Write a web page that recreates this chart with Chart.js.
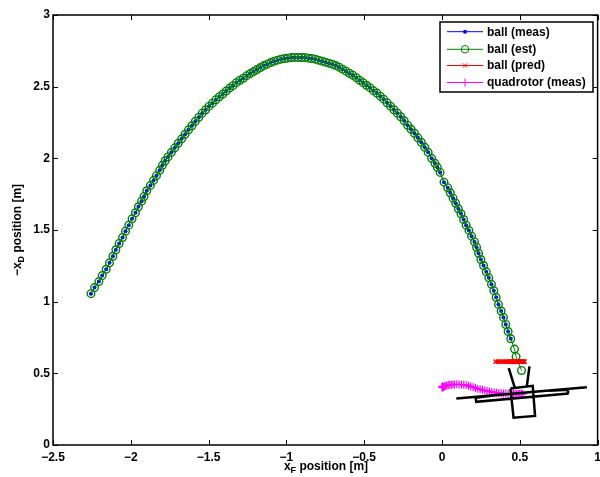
<!DOCTYPE html>
<html>
<head>
<meta charset="utf-8">
<title>ball and quadrotor</title>
<script src="https://cdn.jsdelivr.net/npm/chart.js@4/dist/chart.umd.min.js"></script>
<style>
  html, body { margin: 0; padding: 0; background: #fff; overflow: hidden; }
  canvas { display: block; }
</style>
</head>
<body>
<!-- a bit wider than the window so the right axis sits at the edge like the original -->
<canvas id="chart" width="603" height="477"></canvas>
<script>
// ball (meas)
var ballMeasX = [
  -2.256, -2.233, -2.205, -2.184, -2.158, -2.137, -2.115, -2.096, -2.075, -2.053,
  -2.034, -2.013, -1.992, -1.970, -1.951, -1.931, -1.915, -1.897, -1.874, -1.854,
  -1.835, -1.814, -1.797, -1.779, -1.761, -1.739, -1.717, -1.695, -1.673, -1.651,
  -1.629, -1.607, -1.585, -1.563, -1.541, -1.519, -1.497, -1.475, -1.453, -1.431,
  -1.409, -1.387, -1.365, -1.343, -1.321, -1.299, -1.277, -1.255, -1.233, -1.211,
  -1.189, -1.167, -1.145, -1.123, -1.101, -1.079, -1.057, -1.035, -1.013, -0.991,
  -0.969, -0.947, -0.925, -0.903, -0.881, -0.859, -0.837, -0.815, -0.793, -0.771,
  -0.749, -0.727, -0.705, -0.683, -0.661, -0.639, -0.617, -0.595, -0.573, -0.551,
  -0.529, -0.507, -0.485, -0.463, -0.441, -0.419, -0.397, -0.375, -0.353, -0.331,
  -0.309, -0.287, -0.265, -0.243, -0.221, -0.199, -0.177, -0.155, -0.133, -0.111,
  -0.089, -0.067, -0.045, -0.030, -0.012, 0.013, 0.037, 0.053, 0.071, 0.088,
  0.105, 0.122, 0.139, 0.155, 0.173, 0.190, 0.209, 0.222, 0.235, 0.250,
  0.267, 0.284, 0.301, 0.318, 0.333, 0.348, 0.363, 0.380, 0.395, 0.410,
  0.425, 0.442
];
var ballMeasY = [
  1.056, 1.098, 1.140, 1.182, 1.226, 1.271, 1.317, 1.362, 1.406, 1.448,
  1.492, 1.534, 1.578, 1.620, 1.662, 1.701, 1.734, 1.774, 1.811, 1.846,
  1.879, 1.916, 1.951, 1.983, 2.010, 2.042, 2.073, 2.105, 2.136, 2.168,
  2.199, 2.227, 2.259, 2.287, 2.315, 2.339, 2.364, 2.385, 2.409, 2.430,
  2.448, 2.469, 2.490, 2.507, 2.528, 2.545, 2.559, 2.577, 2.591, 2.605,
  2.619, 2.633, 2.647, 2.657, 2.668, 2.678, 2.685, 2.692, 2.696, 2.699,
  2.703, 2.704, 2.704, 2.703, 2.703, 2.699, 2.696, 2.692, 2.685, 2.678,
  2.671, 2.664, 2.657, 2.647, 2.636, 2.622, 2.608, 2.594, 2.580, 2.563,
  2.545, 2.528, 2.510, 2.493, 2.472, 2.455, 2.434, 2.413, 2.388, 2.364,
  2.339, 2.315, 2.290, 2.262, 2.231, 2.203, 2.175, 2.143, 2.112, 2.077,
  2.042, 2.000, 1.965, 1.937, 1.902, 1.834, 1.795, 1.760, 1.722, 1.687,
  1.648, 1.613, 1.573, 1.534, 1.497, 1.457, 1.417, 1.380, 1.338, 1.294,
  1.252, 1.208, 1.166, 1.121, 1.077, 1.030, 0.981, 0.935, 0.890, 0.841,
  0.792, 0.741
];

// ball (est) follows the measurement and goes on a little further
var ballEstX = ballMeasX.concat([0.466, 0.476, 0.511]);
var ballEstY = ballMeasY.concat([0.669, 0.617, 0.520]);

// ball (pred)
var ballPredX = [
  0.345, 0.36, 0.375, 0.39, 0.405, 0.415, 0.425, 0.435, 0.44, 0.445, 0.45, 0.455, 0.46, 0.465, 0.47,
  0.475, 0.48, 0.485, 0.49, 0.495, 0.50, 0.505, 0.51, 0.515, 0.52, 0.525, 0.53
];
var ballPredY = [
  0.582, 0.582, 0.581, 0.582, 0.581, 0.582, 0.582, 0.581, 0.582, 0.581, 0.582, 0.581, 0.582, 0.582, 0.581,
  0.582, 0.582, 0.581, 0.582, 0.582, 0.581, 0.582, 0.581, 0.582, 0.582, 0.581, 0.582
];

// quadrotor (meas)
var quadMeasX = [
  0.00, 0.002, 0.005, 0.01, 0.015, 0.02, 0.03, 0.04, 0.05, 0.06, 0.07, 0.08, 0.095, 0.11, 0.125,
  0.14, 0.155, 0.17, 0.185, 0.20, 0.215, 0.23, 0.245, 0.26, 0.275, 0.29, 0.305, 0.32, 0.335,
  0.35, 0.365, 0.38, 0.395, 0.41, 0.425, 0.44, 0.45, 0.46, 0.47, 0.48, 0.49, 0.50, 0.51, 0.52
];
var quadMeasY = [
  0.405, 0.41, 0.40, 0.405, 0.41, 0.412, 0.415, 0.418, 0.42, 0.42, 0.422, 0.422, 0.423, 0.422, 0.422,
  0.42, 0.418, 0.413, 0.408, 0.403, 0.398, 0.393, 0.389, 0.385, 0.38, 0.377, 0.373, 0.37, 0.367,
  0.364, 0.362, 0.361, 0.36, 0.359, 0.358, 0.357, 0.357, 0.356, 0.356, 0.356, 0.356, 0.357, 0.357, 0.357
];

// quadrotor outline, null breaks the line
var outlineX = [
  0.092, 0.931, null,
  0.340, 0.216, 0.220, 0.814, 0.810, 0.690, null,
  0.440, 0.583, 0.598, 0.460, 0.440, null,
  0.429, 0.468, null,
  0.562, 0.545
];
var outlineY = [
  0.324, 0.403, null,
  0.347, 0.329, 0.301, 0.359, 0.385, 0.378, null,
  0.394, 0.413, 0.203, 0.191, 0.394, null,
  0.536, 0.399, null,
  0.548, 0.408
];

var xTicks = [-2.5, -2, -1.5, -1, -0.5, 0, 0.5, 1];
var yTicks = [0, 0.5, 1, 1.5, 2, 2.5, 3];

var labelFont = "bold 12px 'Liberation Sans', Arial, sans-serif";

function toPoints(xs, ys) {
  return xs.map(function (x, i) {
    return { x: x, y: ys[i] };
  });
}

function tickText(value) {
  return String(value).replace("-", "\u2212");
}

// text with a small lowered part, eg x_F
function drawSubLabel(ctx, before, sub, after, x, y) {
  ctx.font = labelFont;
  var w1 = ctx.measureText(before).width;
  var w3 = ctx.measureText(after).width;
  ctx.font = "bold 9px 'Liberation Sans', Arial, sans-serif";
  var w2 = ctx.measureText(sub).width;
  var left = x - (w1 + w2 + w3) / 2;
  ctx.textAlign = "left";
  ctx.textBaseline = "alphabetic";
  ctx.fillStyle = "#000";
  ctx.fillText(sub, left + w1, y + 3);
  ctx.font = labelFont;
  ctx.fillText(before, left, y);
  ctx.fillText(after, left + w1 + w2, y);
}

// matlab style box with ticks pointing inside, axis titles and legend
var matlabBox = {
  id: "matlabBox",
  afterDatasetsDraw: function (chart) {
    var ctx = chart.ctx;
    var area = chart.chartArea;
    var sx = chart.scales.x;
    var sy = chart.scales.y;
    ctx.save();

    ctx.strokeStyle = "#000";
    ctx.lineWidth = 1;
    ctx.beginPath();
    xTicks.forEach(function (v) {
      var px = Math.round(sx.getPixelForValue(v)) + 0.5;
      ctx.moveTo(px, area.bottom);
      ctx.lineTo(px, area.bottom - 5);
      ctx.moveTo(px, area.top);
      ctx.lineTo(px, area.top + 5);
    });
    yTicks.forEach(function (v) {
      var py = Math.round(sy.getPixelForValue(v)) + 0.5;
      ctx.moveTo(area.left, py);
      ctx.lineTo(area.left + 5, py);
      ctx.moveTo(area.right, py);
      ctx.lineTo(area.right - 5, py);
    });
    ctx.stroke();

    ctx.lineWidth = 1.5;
    ctx.strokeRect(area.left, area.top, area.right - area.left, area.bottom - area.top);

    drawSubLabel(ctx, "x", "F", " position [m]", 326, 470);
    ctx.save();
    ctx.translate(21, 230);
    ctx.rotate(-Math.PI / 2);
    drawSubLabel(ctx, "\u2212x", "D", " position [m]", 0, 0);
    ctx.restore();

    // legend
    ctx.fillStyle = "#fff";
    ctx.fillRect(440, 22, 153, 70);
    ctx.strokeStyle = "#000";
    ctx.lineWidth = 1.5;
    ctx.strokeRect(440, 22, 153, 70);
    var rows = [31.7, 49.3, 65.5, 82.5];
    rows.forEach(function (y, i) {
      var ds = chart.data.datasets[i];
      ctx.strokeStyle = ds.borderColor;
      ctx.lineWidth = 1;
      ctx.beginPath();
      ctx.moveTo(447, y);
      ctx.lineTo(483, y);
      ctx.stroke();
      ctx.fillStyle = ds.pointBackgroundColor;
      ctx.strokeStyle = ds.pointBorderColor;
      Chart.helpers.drawPoint(ctx, {
        pointStyle: ds.pointStyle,
        radius: ds.pointRadius,
        borderWidth: ds.pointBorderWidth
      }, 465, y);
      ctx.fillStyle = "#000";
      ctx.font = labelFont;
      ctx.textAlign = "left";
      ctx.textBaseline = "middle";
      ctx.fillText(ds.label, 487, y + 0.5);
    });
    ctx.restore();
  },
};

var ctx = document.getElementById("chart").getContext("2d");

var chart = new Chart(ctx, {
  type: "scatter",
  data: {
    datasets: [
      {
        label: "ball (meas)",
        data: toPoints(ballMeasX, ballMeasY),
        showLine: true,
        borderColor: "#0000ff",
        backgroundColor: "#0000ff",
        borderWidth: 1,
        pointStyle: "circle",
        pointRadius: 2,
        pointBorderWidth: 0,
        pointBorderColor: "#0000ff",
        pointBackgroundColor: "#0000ff",
        order: 5,
      },
      {
        label: "ball (est)",
        data: toPoints(ballEstX, ballEstY),
        showLine: true,
        borderColor: "#008000",
        backgroundColor: "rgba(0,0,0,0)",
        borderWidth: 1,
        pointStyle: "circle",
        pointRadius: 3.8,
        pointBorderWidth: 1.4,
        pointBorderColor: "#008000",
        pointBackgroundColor: "rgba(0,0,0,0)",
        order: 4,
      },
      {
        label: "ball (pred)",
        data: toPoints(ballPredX, ballPredY),
        showLine: true,
        borderColor: "#ff0000",
        backgroundColor: "#ff0000",
        borderWidth: 1.5,
        pointStyle: "crossRot",
        pointRadius: 3,
        pointBorderWidth: 1.4,
        pointBorderColor: "#ff0000",
        pointBackgroundColor: "#ff0000",
        order: 3,
      },
      {
        label: "quadrotor (meas)",
        data: toPoints(quadMeasX, quadMeasY),
        showLine: true,
        borderColor: "#ff00ff",
        backgroundColor: "#ff00ff",
        borderWidth: 1.3,
        pointStyle: "cross",
        pointRadius: 4,
        pointBorderWidth: 1.2,
        pointBorderColor: "#ff00ff",
        pointBackgroundColor: "#ff00ff",
        order: 2,
      },
      {
        label: "outline",
        data: toPoints(outlineX, outlineY),
        showLine: true,
        spanGaps: false,
        borderColor: "#000",
        borderWidth: 2.5,
        pointRadius: 0,
        order: 1,
      },
    ],
  },
  options: {
    responsive: false,
    animation: false,
    layout: {
      padding: { left: 0, right: 0, top: 15, bottom: 0 },
    },
    plugins: {
      legend: {
        display: false,
      },
      tooltip: {
        enabled: false,
      },
    },
    scales: {
      x: {
        type: "linear",
        min: -2.5,
        max: 1,
        afterBuildTicks: function (axis) {
          axis.ticks = xTicks.map(function (v) {
            return { value: v };
          });
        },
        afterFit: function (axis) {
          axis.height = 32;
          axis.paddingLeft = 0;
          axis.paddingRight = 0;
        },
        border: { display: false },
        grid: { display: false, drawTicks: false },
        ticks: {
          autoSkip: false,
          maxRotation: 0,
          padding: 5,
          color: "#000",
          font: { family: "'Liberation Sans', Arial, sans-serif", size: 12, weight: "bold" },
          callback: tickText,
        },
      },
      y: {
        type: "linear",
        min: 0,
        max: 3,
        afterBuildTicks: function (axis) {
          axis.ticks = yTicks.map(function (v) {
            return { value: v };
          });
        },
        afterFit: function (axis) {
          axis.width = 53;
          axis.paddingTop = 0;
          axis.paddingBottom = 0;
        },
        border: { display: false },
        grid: { display: false, drawTicks: false },
        ticks: {
          autoSkip: false,
          padding: 3,
          color: "#000",
          font: { family: "'Liberation Sans', Arial, sans-serif", size: 12, weight: "bold" },
          callback: tickText,
        },
      },
    },
  },
  plugins: [matlabBox],
});
</script>
</body>
</html>
